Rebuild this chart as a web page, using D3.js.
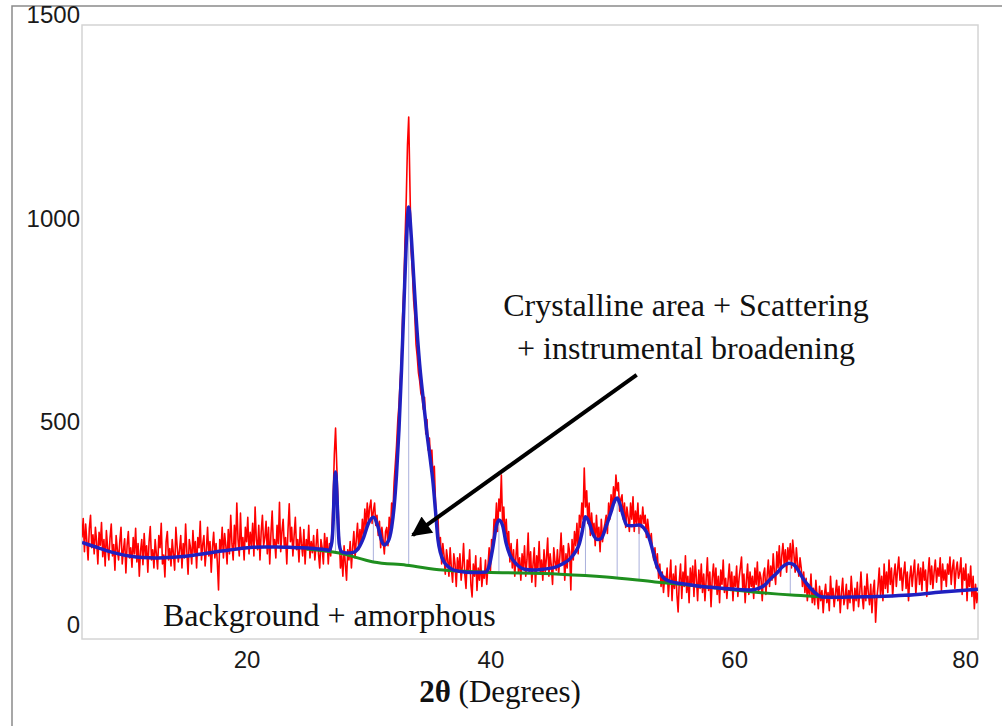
<!DOCTYPE html>
<html>
<head>
<meta charset="utf-8">
<script src="https://cdn.jsdelivr.net/npm/d3@7"></script>
<style>
  body { margin: 0; background: #fff; }
  svg { display: block; }
</style>
</head>
<body>
<div id="chart"></div>
<script>
// measured pattern: one value every 0.1 degree from 6.5 to 80.0
const twoThetaStart = 6.5;
const twoThetaStep = 0.1;
const observed = [
  215, 262, 180, 248, 205, 160, 238, 270, 190, 222,
  175, 240, 205, 150, 228, 196, 252, 168, 210, 145,
  232, 190, 160, 215, 248, 170, 198, 135, 220, 185,
  160, 205, 240, 150, 185, 212, 128, 196, 230, 165,
  190, 142, 215, 175, 238, 155, 200, 120, 182, 210,
  148, 225, 170, 195, 130, 205, 242, 160, 185, 140,
  210, 175, 138, 220, 190, 250, 150, 172, 118, 205,
  230, 160, 188, 145, 210, 175, 135, 240, 195, 155,
  185, 220, 140, 200, 165, 248, 180, 125, 210, 190,
  150, 232, 178, 205, 140, 215, 190, 255, 160, 198,
  220, 145, 185, 240, 170, 205, 130, 190, 228, 165,
  200, 155, 86, 210, 185, 240, 165, 225, 195, 150,
  235, 175, 270, 200, 160, 245, 190, 300, 210, 170,
  275, 190, 215, 160, 240, 205, 265, 175, 228, 195,
  250, 170, 290, 210, 185, 245, 160, 230, 270, 195,
  215, 255, 175, 240, 150, 225, 280, 195, 210, 165,
  245, 200, 302, 180, 230, 260, 190, 215, 150, 235,
  298, 205, 240, 170, 220, 265, 185, 210, 155, 240,
  200, 170, 235, 150, 210, 185, 245, 165, 205, 178,
  220, 160, 195, 235, 175, 140, 210, 190, 150, 225,
  180, 215, 150, 200, 170, 230, 310, 420, 484, 390,
  300, 220, 140, 170, 120, 195, 150, 110, 185, 160,
  205, 140, 190, 230, 165, 210, 250, 185, 235, 200,
  260, 215, 285, 240, 300, 255, 290, 307, 250, 280,
  300, 245, 270, 220, 255, 190, 240, 210, 175, 230,
  240, 195, 265, 230, 300, 275, 350, 395, 440, 500,
  540, 600, 650, 760, 830, 950, 1050, 1180, 1249, 1080,
  920, 870, 800, 760, 690, 660, 620, 600, 570, 560,
  530, 560, 470, 505, 430, 460, 400, 430, 360, 390,
  300, 250, 265, 190, 215, 150, 200, 170, 125, 185,
  160, 120, 190, 140, 105, 175, 150, 95, 165, 130,
  175, 110, 145, 200, 125, 90, 160, 135, 185, 100,
  69, 150, 120, 170, 85, 140, 110, 165, 95, 130,
  115, 160, 100, 145, 190, 130, 210, 185, 260, 240,
  300, 230, 310, 280, 369, 250, 290, 215, 260, 195,
  230, 155, 200, 140, 185, 120, 170, 210, 130, 165,
  110, 175, 140, 195, 120, 160, 226, 130, 180, 105,
  150, 190, 95, 170, 140, 205, 125, 160, 110, 185,
  130, 165, 214, 120, 175, 145, 100, 190, 155, 135,
  185, 125, 170, 226, 150, 195, 110, 175, 140, 200,
  180, 86, 210, 160, 230, 195, 250, 175, 270, 240,
  300, 260, 386, 290, 330, 250, 300, 220, 275, 230,
  250, 195, 270, 215, 240, 180, 260, 205, 235, 250,
  270, 225, 300, 260, 320, 280, 340, 300, 369, 330,
  350, 280, 310, 320, 260, 300, 240, 290, 265, 230,
  300, 260, 315, 230, 280, 250, 300, 225, 270, 245,
  290, 250, 270, 215, 260, 230, 205, 225, 180, 160,
  190, 140, 175, 115, 150, 95, 130, 80, 120, 105,
  140, 70, 115, 160, 60, 125, 90, 145, 75, 32,
  110, 150, 65, 130, 95, 170, 80, 120, 55, 140,
  100, 145, 70, 160, 115, 60, 135, 90, 150, 80,
  125, 60, 110, 165, 85, 130, 45, 115, 150, 90,
  140, 75, 120, 55, 135, 100, 160, 80, 115, 65,
  110, 150, 85, 130, 60, 120, 95, 145, 70, 115,
  140, 167, 90, 125, 55, 110, 150, 75, 130, 95,
  120, 65, 140, 100, 155, 80, 130, 115, 60, 125,
  140, 75, 120, 160, 95, 145, 110, 175, 130, 100,
  180, 140, 195, 120, 170, 200, 150, 185, 130, 190,
  160, 200, 140, 209, 175, 130, 190, 150, 120, 165,
  140, 95, 130, 80, 115, 60, 100, 75, 125, 55,
  90, 50, 110, 70, 40, 95, 60, 85, 30, 75,
  100, 55, 80, 35, 120, 65, 90, 45, 75, 110,
  60, 95, 30, 80, 115, 50, 70, 100, 40, 85,
  55, 120, 75, 35, 90, 60, 105, 45, 80, 130,
  70, 40, 95, 60, 125, 80, 50, 100, 30, 85,
  110, 7, 65, 95, 140, 75, 120, 60, 150, 90,
  130, 80, 160, 100, 140, 70, 120, 150, 95, 135,
  167, 110, 140, 85, 125, 155, 90, 130, 60, 115,
  145, 95, 130, 160, 75, 120, 150, 100, 140, 85,
  155, 110, 135, 70, 125, 165, 100, 145, 90, 130,
  160, 105, 140, 120, 165, 85, 150, 110, 135, 95,
  150, 125, 167, 100, 140, 160, 90, 135, 155, 115,
  130, 165, 75, 140, 110, 150, 60, 125, 95, 145,
  70, 120, 40, 100, 55, 80
];

// fitted profile (blue)
const fitTheta = [
  6.5, 7.5, 8.5, 9.5, 10.5, 11.5, 12.5, 13.5, 14.5, 15.5, 16.5, 17.5, 18.5, 19.5,
  20.5, 21.5, 22.5, 23.5, 24.5, 25.5, 26.5, 26.8, 27.0, 27.1, 27.2, 27.3, 27.4,
  27.5, 27.6, 27.8, 28.2, 28.7, 29.2, 29.6, 30.0, 30.4, 30.8, 31.1, 31.3, 31.6,
  31.9, 32.1, 32.3, 32.5, 32.7, 32.9, 33.1, 33.3, 33.5, 33.7, 33.9, 34.2, 34.5,
  34.8, 35.1, 35.3, 35.5, 35.7, 35.9, 36.2, 36.6, 37.0, 38.0, 39.0, 39.6, 39.9,
  40.2, 40.5, 40.7, 41.0, 41.3, 41.6, 41.9, 42.3, 42.8, 43.5, 44.5, 45.2, 45.9,
  46.5, 47.0, 47.3, 47.5, 47.8, 48.1, 48.4, 48.8, 49.1, 49.5, 49.9, 50.2, 50.4,
  50.6, 50.9, 51.2, 51.6, 52.2, 52.6, 53.0, 53.3, 53.6, 53.9, 54.2, 54.5, 55.2,
  55.9, 57.0, 58.0, 59.5, 61.3, 62.0, 62.5, 62.9, 63.5, 64.0, 64.5, 64.9, 65.3,
  65.7, 66.0, 66.4, 66.8, 67.2, 68.5, 70.0, 71.7, 74.0, 77.0, 80.0
];
const fitIntensity = [
  203, 193, 183, 175, 169, 166, 165, 166, 168, 171, 175, 180, 184, 188,
  191, 192, 192, 191, 190, 188, 185, 184, 205, 250, 340, 376, 330,
  250, 200, 180, 177, 178, 190, 215, 250, 265, 240, 205, 197, 205,
  240, 290, 370, 480, 620, 780, 940, 1028, 960, 860, 760, 640, 553,
  470, 400, 349, 280, 210, 178, 155, 142, 135, 130, 129, 130, 145,
  190, 245, 258, 245, 200, 172, 158, 145, 137, 135, 138, 141, 150,
  162, 181, 200, 225, 266, 252, 225, 210, 213, 243, 278, 306, 312,
  300, 268, 245, 244, 246, 238, 216, 185, 150, 130, 116, 110, 104,
  101, 96, 93, 89, 86, 90, 98, 111, 128, 144, 152, 148, 132,
  112, 100, 86, 75, 69, 68, 69, 70, 73, 81, 88
];

// background + amorphous (green)
const bgTheta = [24.9, 27.6, 30.4, 33.1, 36.1, 39.6, 45.7, 49.5, 53.5, 58.0, 62.0, 65.0, 67.5];
const bgIntensity = [187, 177, 155, 147, 135, 130, 125, 118, 106, 93, 80, 73, 69];

// fitted peak positions and heights
const peakTheta = [27.3, 30.4, 33.3, 40.7, 47.8, 50.4, 52.2, 64.6];
const peakTop = [376, 265, 1028, 258, 266, 312, 246, 152];

const xTicks = [20, 40, 60, 80];
const yTicks = [0, 500, 1000, 1500];

const W = 1002, H = 726;
const plot = { left: 82, right: 978, top: 25, bottom: 639 };

const svg = d3.select("#chart")
  .append("svg")
  .attr("width", W)
  .attr("height", H);

// outer frame
svg.append("path")
  .attr("d", "M12," + H + " L12,6 L" + W + ",6")
  .attr("fill", "none")
  .attr("stroke", "#8a8a8a")
  .attr("stroke-width", 1.5);

const x = d3.scaleLinear().domain([6.5, 80]).range([plot.left, plot.right]);
const y = d3.scaleLinear().domain([0, 1500]).range([625, 15]);

svg.append("defs").append("clipPath")
  .attr("id", "clip")
  .append("rect")
  .attr("x", plot.left)
  .attr("y", plot.top)
  .attr("width", plot.right - plot.left)
  .attr("height", plot.bottom - plot.top);

svg.append("rect")
  .attr("x", plot.left)
  .attr("y", plot.top)
  .attr("width", plot.right - plot.left)
  .attr("height", plot.bottom - plot.top)
  .attr("fill", "#fff")
  .attr("stroke", "#d4d4d4")
  .attr("stroke-width", 1.5);

const g = svg.append("g").attr("clip-path", "url(#clip)");

const obsData = observed.map((v, i) => [twoThetaStart + i * twoThetaStep, v]);
const fitData = fitTheta.map((t, i) => [t, fitIntensity[i]]);
const bgData = bgTheta.map((t, i) => [t, bgIntensity[i]]);

const line = d3.line()
  .x(d => x(d[0]))
  .y(d => y(d[1]));

g.append("path")
  .datum(obsData)
  .attr("d", line)
  .attr("fill", "none")
  .attr("stroke", "#ff0000")
  .attr("stroke-width", 1.6)
  .attr("stroke-linejoin", "round");

// faint peak markers
const bgAt = t => {
  const i = d3.bisectLeft(bgTheta, t);
  if (i <= 0) return bgIntensity[0];
  if (i >= bgTheta.length) return bgIntensity[bgIntensity.length - 1];
  const f = (t - bgTheta[i - 1]) / (bgTheta[i] - bgTheta[i - 1]);
  return bgIntensity[i - 1] + f * (bgIntensity[i] - bgIntensity[i - 1]);
};
g.selectAll(".peak")
  .data(peakTheta)
  .enter()
  .append("line")
  .attr("class", "peak")
  .attr("x1", d => x(d))
  .attr("x2", d => x(d))
  .attr("y1", d => y(bgAt(d)))
  .attr("y2", (d, i) => y(peakTop[i]))
  .attr("stroke", "#aab0dc")
  .attr("stroke-width", 1);

const smooth = d3.line()
  .x(d => x(d[0]))
  .y(d => y(d[1]))
  .curve(d3.curveMonotoneX);

g.append("path")
  .datum(bgData)
  .attr("d", smooth)
  .attr("fill", "none")
  .attr("stroke", "#1f8f1f")
  .attr("stroke-width", 3);

g.append("path")
  .datum(fitData)
  .attr("d", smooth)
  .attr("fill", "none")
  .attr("stroke", "#2020c0")
  .attr("stroke-width", 3.5)
  .attr("stroke-linejoin", "round");

// axes (labels only)
const yAxis = d3.axisLeft(y).tickValues(yTicks).tickSize(0).tickPadding(0)
  .tickFormat(d3.format("d"));
svg.append("g")
  .attr("transform", "translate(80,0)")
  .call(yAxis)
  .call(s => s.select(".domain").remove())
  .selectAll("text")
  .attr("font-family", "Liberation Sans, Arial, sans-serif")
  .attr("font-size", 24)
  .attr("fill", "#1a1a1a");

const xAxis = d3.axisBottom(x).tickValues(xTicks).tickSize(0).tickPadding(12);
svg.append("g")
  .attr("transform", "translate(0," + plot.bottom + ")")
  .call(xAxis)
  .call(s => s.select(".domain").remove())
  .selectAll("text")
  .attr("font-family", "Liberation Sans, Arial, sans-serif")
  .attr("font-size", 24)
  .attr("fill", "#1a1a1a")
  .attr("text-anchor", d => d === 80 ? "end" : "middle")
  .attr("dx", d => d === 80 ? "0.02em" : 0);

// x axis title
const title = svg.append("text")
  .attr("x", 500)
  .attr("y", 702)
  .attr("text-anchor", "middle")
  .attr("font-family", "Liberation Serif, Times New Roman, serif")
  .attr("font-size", 31)
  .attr("fill", "#111");
title.append("tspan").attr("font-weight", "bold").text("2θ");
title.append("tspan").text(" (Degrees)");

// annotations
const serif = "Liberation Serif, Times New Roman, serif";
svg.append("text")
  .attr("x", 686).attr("y", 316)
  .attr("text-anchor", "middle")
  .attr("font-family", serif)
  .attr("font-size", 32)
  .attr("fill", "#111")
  .text("Crystalline area + Scattering");
svg.append("text")
  .attr("x", 686).attr("y", 359)
  .attr("text-anchor", "middle")
  .attr("font-family", serif)
  .attr("font-size", 32)
  .attr("fill", "#111")
  .text("+ instrumental broadening");
svg.append("text")
  .attr("x", 163).attr("y", 626)
  .attr("font-family", serif)
  .attr("font-size", 32)
  .attr("fill", "#111")
  .text("Background + amorphous");

// arrow
const arrowFrom = [52.0, 615];
const arrowTo = [33.63, 221];
svg.append("defs").append("marker")
  .attr("id", "head")
  .attr("viewBox", "0 0 10 10")
  .attr("refX", 9)
  .attr("refY", 5)
  .attr("markerWidth", 6)
  .attr("markerHeight", 5)
  .attr("orient", "auto")
  .attr("markerUnits", "strokeWidth")
  .append("path")
  .attr("d", "M0,0 L10,5 L0,10 Z")
  .attr("fill", "#000");
svg.append("line")
  .attr("x1", x(arrowFrom[0])).attr("y1", y(arrowFrom[1]))
  .attr("x2", x(arrowTo[0])).attr("y2", y(arrowTo[1]))
  .attr("stroke", "#000")
  .attr("stroke-width", 4)
  .attr("marker-end", "url(#head)");
</script>
</body>
</html>
